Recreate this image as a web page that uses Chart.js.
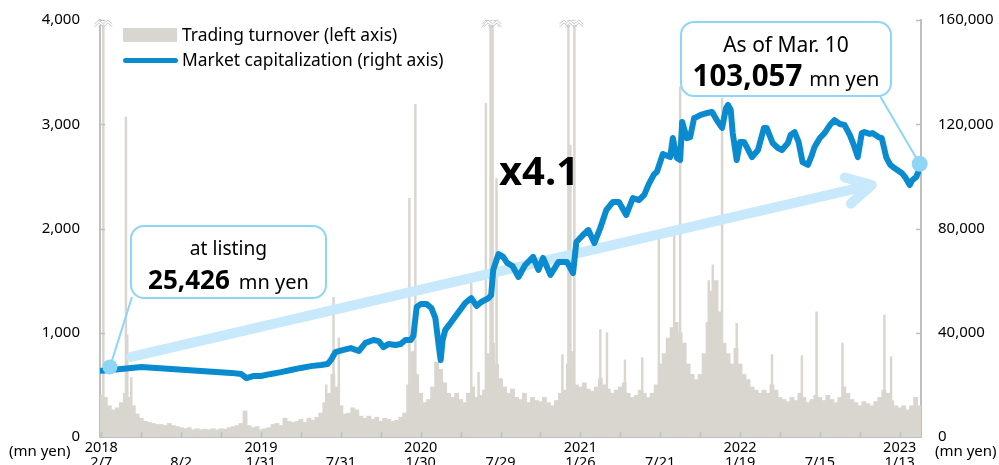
<!DOCTYPE html>
<html>
<head>
<meta charset="utf-8">
<script src="https://cdn.jsdelivr.net/npm/chart.js@4.4.1/dist/chart.umd.min.js"></script>
<style>
  html, body { margin: 0; padding: 0; background: #fff; }
  body { width: 999px; height: 465px; overflow: hidden; font-family: "Noto Sans", sans-serif; color: #000; }
  #wrap { position: relative; width: 999px; height: 465px; }
  #chart { position: absolute; left: 0; top: 0; }
  .txt { position: absolute; white-space: nowrap; line-height: 1; }
  .box { position: absolute; box-sizing: border-box; border: 2.5px solid #8ED5F8; border-radius: 14px; }
  .box .row { position: absolute; left: 0; right: 0; text-align: center; white-space: nowrap; }
</style>
</head>
<body>
<div id="wrap">
  <canvas id="chart" width="999" height="465"></canvas>

  <!-- legend -->
  <div style="position:absolute;left:123px;top:28px;width:54px;height:14px;background:#D9D6D0;"></div>
  <div class="txt" style="left:182px;top:26px;font-size:17.4px;">Trading turnover (left axis)</div>
  <div style="position:absolute;left:123px;top:58px;width:55px;height:5px;border-radius:3px;background:#0A8BD0;"></div>
  <div class="txt" style="left:182px;top:51px;font-size:17.4px;">Market capitalization (right axis)</div>

  <!-- unit labels -->
  <div class="txt" style="left:9px;top:443px;font-size:15px;">(mn yen)</div>
  <div class="txt" style="left:935px;top:443px;font-size:15px;">(mn yen)</div>

  <!-- callouts -->
  <div class="box" style="left:130px;top:225px;width:197px;height:74px;">
    <div class="row" style="top:8px;font-size:19.2px;line-height:26px;">at listing</div>
    <div class="row" style="top:36px;line-height:32px;"><b style="font-size:26px;">25,426</b><span style="font-size:20px;margin-left:9px;">mn yen</span></div>
  </div>
  <div class="box" style="left:680px;top:21px;width:212px;height:76px;">
    <div class="row" style="top:7px;font-size:21px;line-height:28px;">As of Mar. 10</div>
    <div class="row" style="top:35px;line-height:34px;"><b style="font-size:29.5px;">103,057</b><span style="font-size:20px;margin-left:7px;">mn yen</span></div>
  </div>
  <div class="txt" style="left:499px;top:150px;font-size:40px;font-weight:bold;">x4.1</div>
</div>

<script>
// Trading turnover and market capitalization since listing (2018/2/7 - 2023/3/10)
// x values are trading days counted from the listing day

const xTickDays = [0, 120, 240, 360, 480, 600, 720, 840, 960, 1080, 1200];
const xTickLabels = [
  ['2018', '2/7'], ['', '8/2'], ['2019', '1/31'], ['', '7/31'], ['2020', '1/30'], ['', '7/29'],
  ['2021', '1/26'], ['', '7/21'], ['2022', '1/19'], ['', '7/15'], ['2023', '1/13']
];

// turnover (mn yen), one bar per 6 trading days
const turnoverStep = 6;
const turnoverValues = [
  400, 380, 300, 260, 280, 330, 420, 380, 300, 220,
  180, 150, 140, 130, 120, 120, 110, 130, 110, 100,
  90, 80, 90, 70, 80, 70, 75, 70, 80, 70,
  80, 75, 90, 100, 110, 130, 250, 110, 90, 100,
  70, 80, 90, 120, 130, 110, 180, 150, 140, 150,
  170, 140, 180, 160, 190, 230, 330, 420, 600, 480,
  300, 220, 230, 280, 260, 200, 180, 200, 170, 190,
  150, 180, 170, 150, 160, 190, 230, 500, 820, 600,
  420, 330, 360, 480, 720, 650, 520, 420, 380, 420,
  360, 330, 420, 480, 380, 400, 450, 800, 900, 700,
  560, 480, 420, 460, 380, 360, 420, 330, 380, 350,
  340, 380, 330, 300, 350, 420, 450, 700, 820, 500,
  480, 520, 460, 440, 480, 560, 500, 460, 420, 450,
  480, 520, 420, 380, 400, 450, 420, 380, 420, 500,
  700, 800, 950, 1050, 1100, 1000, 900, 700, 600, 550,
  600, 800, 1100, 1400, 1500, 1200, 900, 800, 700, 850,
  700, 600, 550, 480, 450, 420, 450, 420, 500, 450,
  380, 360, 340, 380, 350, 420, 380, 330, 360, 400,
  380, 350, 400, 360, 330, 380, 480, 420, 360, 330,
  300, 340, 320, 300, 340, 380, 450, 420, 350, 300,
  280, 300, 260, 300, 380, 300
];

// single-day turnover spikes
const spikeDays = [3, 37, 39, 45, 338, 349, 357, 463, 472, 556, 567, 578, 585, 588, 594, 693, 702, 705, 711,
  750, 760, 787, 813, 838, 861, 870, 913, 919, 933, 955, 1008, 1053, 1075, 1114, 1177, 1187];
const spikeValues = [5000, 3070, 980, 570, 500, 1340, 950, 2290, 3190, 1570, 620, 3200, 5000, 4800, 2480, 790, 5000, 2800, 4800,
  1030, 1000, 740, 760, 1960, 1960, 3360, 1500, 1650, 3250, 1090, 790, 780, 1200, 900, 1170, 770];

// market capitalization (mn yen)
const capDays = [
  0, 30, 60, 105, 150, 195, 210, 218, 228, 240,
  255, 270, 285, 300, 315, 330, 340, 345, 352, 364,
  375, 387, 397, 409, 417, 424, 432, 442, 450, 457,
  465, 469, 474, 480, 489, 496, 502, 507, 510, 513,
  517, 526, 537, 547, 556, 564, 571, 582, 586, 589,
  597, 604, 610, 618, 627, 637, 649, 657, 664, 675,
  687, 700, 709, 714, 724, 732, 741, 750, 759, 769,
  778, 789, 799, 808, 816, 823, 831, 835, 844, 855,
  859, 865, 870, 873, 880, 885, 891, 895, 901, 910,
  918, 925, 933, 939, 942, 946, 949, 955, 960, 966,
  970, 978, 987, 996, 1000, 1009, 1017, 1023, 1032, 1036,
  1042, 1048, 1054, 1062, 1068, 1072, 1080, 1087, 1095, 1102,
  1110, 1117, 1125, 1131, 1137, 1143, 1147, 1155, 1159, 1168,
  1173, 1180, 1186, 1192, 1203, 1209, 1215, 1219, 1225, 1230
];
const capValues = [
  25426, 26100, 26900, 26100, 25300, 24600, 24200, 22600, 23400, 23400,
  24200, 24900, 25700, 26500, 27200, 27600, 28000, 29500, 32600, 33400,
  34100, 33000, 36100, 37200, 36800, 34500, 35700, 35300, 35700, 37200,
  37200, 38800, 49900, 51000, 51000, 49500, 45700, 35300, 29500, 37200,
  41100, 44100, 48000, 51400, 53300, 50300, 51800, 53300, 54500, 64100,
  70200, 69100, 66800, 65600, 61400, 66000, 69100, 64100, 68700, 62200,
  67100, 67100, 62900, 74800, 77500, 79400, 74400, 80200, 87100, 90200,
  90200, 85200, 91700, 90900, 92900, 97100, 100900, 101700, 108600, 107400,
  114700, 107100, 106300, 120900, 114700, 115100, 122400, 122800, 123600, 124300,
  124700, 121600, 118600, 126200, 127400, 125500, 116600, 106300, 113200, 113200,
  111300, 107400, 110100, 118600, 118600, 112800, 110900, 110100, 112800, 115900,
  117000, 113200, 105500, 104400, 108200, 111300, 114700, 116600, 119700, 121600,
  120100, 119700, 115900, 112000, 107400, 116600, 117000, 116300, 116600, 115100,
  114700, 107100, 104400, 103200, 101300, 99400, 96700, 98600, 99800, 103057
];

const turnoverMax = 4000;
const capMax = 160000;

// callout anchors (day, market cap)
const listingMark = { day: 13, cap: 26900 };
const latestMark = { day: 1230, cap: 104800 };
const growthArrow = { from: { day: 45, cap: 30700 }, to: { day: 1158, cap: 96700 } };

const axisGray = '#BFBFBF';
const barGray = '#D9D6D0';
const capBlue = '#0A8BD0';
const calloutBlue = '#8ED5F8';
const arrowBlue = '#C7E9FB';

// extra drawing: inner tick marks, growth arrow, callout pointers, broken-bar marks
const decorations = {
  id: 'decorations',
  beforeDatasetDraw(chart, args) {
    if (args.index !== 0) return;
    const { ctx, scales: { x, y2 } } = chart;
    const x1 = x.getPixelForValue(growthArrow.from.day), y1 = y2.getPixelForValue(growthArrow.from.cap);
    const x2 = x.getPixelForValue(growthArrow.to.day), y2p = y2.getPixelForValue(growthArrow.to.cap);
    const ang = Math.atan2(y2p - y1, x2 - x1);
    ctx.save();
    ctx.strokeStyle = arrowBlue;
    ctx.lineWidth = 10;
    ctx.lineCap = 'round';
    ctx.lineJoin = 'round';
    ctx.beginPath();
    ctx.moveTo(x1, y1);
    ctx.lineTo(x2, y2p);
    ctx.moveTo(x2 - 28 * Math.cos(ang - 0.5), y2p - 28 * Math.sin(ang - 0.5));
    ctx.lineTo(x2, y2p);
    ctx.lineTo(x2 - 28 * Math.cos(ang + 0.5), y2p - 28 * Math.sin(ang + 0.5));
    ctx.stroke();
    ctx.restore();
  },
  afterDraw(chart) {
    const { ctx, chartArea: area, scales: { x, y, y2 } } = chart;
    ctx.save();

    // tick marks pointing into the plot
    ctx.strokeStyle = axisGray;
    ctx.lineWidth = 1.5;
    ctx.beginPath();
    for (let d = 0; d <= 1200; d += 60) {
      const px = Math.round(x.getPixelForValue(d)) + 0.5;
      ctx.moveTo(px, area.bottom);
      ctx.lineTo(px, area.bottom - 5);
    }
    for (let v = 1000; v <= turnoverMax; v += 1000) {
      const py = Math.round(y.getPixelForValue(v)) + 0.5;
      ctx.moveTo(area.left, py);
      ctx.lineTo(area.left + 5, py);
    }
    for (let v = 40000; v <= capMax; v += 40000) {
      const py = Math.round(y2.getPixelForValue(v)) + 0.5;
      ctx.moveTo(area.right, py);
      ctx.lineTo(area.right - 5, py);
    }
    ctx.stroke();

    // broken-bar marks on clipped bars
    spikeDays.forEach((d, i) => {
      if (spikeValues[i] <= turnoverMax) return;
      const px = x.getPixelForValue(d);
      const top = area.top;
      ctx.fillStyle = '#fff';
      ctx.fillRect(px - 8, top + 1, 16, 4);
      ctx.strokeStyle = '#C8C8C8';
      ctx.lineWidth = 1;
      [0, 3].forEach(off => {
        ctx.beginPath();
        ctx.moveTo(px - 9, top + 4 + off);
        ctx.lineTo(px - 4.5, top + off);
        ctx.lineTo(px, top + 4 + off);
        ctx.lineTo(px + 4.5, top + off);
        ctx.lineTo(px + 9, top + 4 + off);
        ctx.stroke();
      });
    });

    // callout pointers and circles
    const lx = x.getPixelForValue(listingMark.day), ly = y2.getPixelForValue(listingMark.cap);
    const ex = x.getPixelForValue(latestMark.day), ey = y2.getPixelForValue(latestMark.cap);
    ctx.strokeStyle = calloutBlue;
    ctx.lineWidth = 2;
    ctx.beginPath();
    ctx.moveTo(132, 297);
    ctx.lineTo(lx, ly);
    ctx.moveTo(880, 96);
    ctx.lineTo(ex, ey);
    ctx.stroke();
    ctx.fillStyle = calloutBlue;
    ctx.beginPath();
    ctx.arc(lx, ly, 7.5, 0, Math.PI * 2);
    ctx.fill();
    ctx.beginPath();
    ctx.arc(ex, ey, 8, 0, Math.PI * 2);
    ctx.fill();

    ctx.restore();
  }
};

// fixed axis sizes so the plot sits where the original does
const fixVertical = width => s => {
  s.width = width;
  s.paddingTop = 0;
  s.paddingBottom = 0;
};

Chart.defaults.font.family = '"Noto Sans", sans-serif';
Chart.defaults.font.size = 15;
Chart.defaults.color = '#000';

const chart = new Chart(document.getElementById('chart'), {
  data: {
    datasets: [
      {
        type: 'line',
        label: 'Market capitalization (right axis)',
        data: capDays.map((d, i) => ({ x: d, y: capValues[i] })),
        yAxisID: 'y2',
        borderColor: capBlue,
        borderWidth: 6,
        borderJoinStyle: 'round',
        borderCapStyle: 'round',
        pointRadius: 0,
        tension: 0,
        order: 0
      },
      {
        type: 'bar',
        label: 'Trading turnover (left axis)',
        data: turnoverValues.map((v, i) => ({ x: i * turnoverStep, y: v })),
        yAxisID: 'y',
        backgroundColor: barGray,
        barThickness: 4.2,
        grouped: false,
        order: 2
      },
      {
        type: 'bar',
        label: 'Trading turnover spikes',
        data: spikeDays.map((d, i) => ({ x: d, y: spikeValues[i] })),
        yAxisID: 'y',
        backgroundColor: barGray,
        barThickness: 1.8,
        grouped: false,
        order: 1
      }
    ]
  },
  options: {
    responsive: false,
    animation: false,
    layout: { autoPadding: false, padding: { top: 20, left: 0, right: 0, bottom: 0 } },
    plugins: { legend: { display: false }, tooltip: { enabled: false } },
    scales: {
      x: {
        type: 'linear',
        min: -2,
        max: 1232,
        offset: false,
        afterBuildTicks: s => { s.ticks = xTickDays.map(v => ({ value: v })); },
        afterFit: s => { s.height = 28; s.paddingLeft = 0; s.paddingRight = 0; },
        ticks: {
          callback: (v, i) => xTickLabels[i],
          autoSkip: false,
          maxRotation: 0,
          padding: 4,
          font: { size: 14.5, lineHeight: 1.0 }
        },
        grid: { display: false, drawTicks: false },
        border: { display: true, color: axisGray, width: 2 }
      },
      y: {
        position: 'left',
        min: 0,
        max: turnoverMax,
        afterFit: fixVertical(100),
        ticks: { stepSize: 1000, padding: 20 },
        grid: { display: false, drawTicks: false },
        border: { display: true, color: axisGray, width: 2 }
      },
      y2: {
        position: 'right',
        min: 0,
        max: capMax,
        afterFit: fixVertical(78),
        ticks: { stepSize: 40000, padding: 17 },
        grid: { display: false, drawTicks: false },
        border: { display: true, color: axisGray, width: 2 }
      }
    }
  },
  plugins: [decorations]
});
</script>
</body>
</html>
